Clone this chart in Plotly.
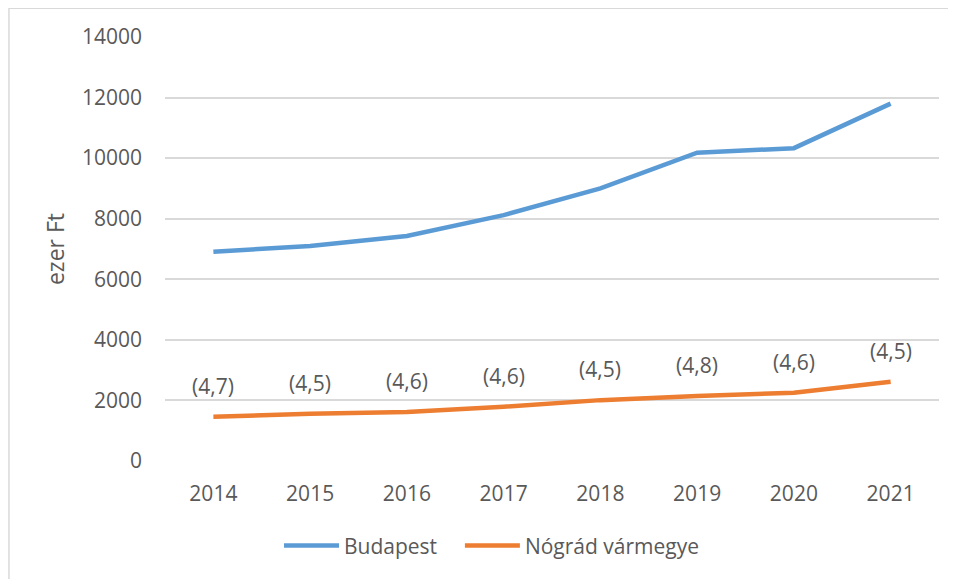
import plotly.graph_objects as go

years = ["2014", "2015", "2016", "2017", "2018", "2019", "2020", "2021"]
budapest = [6910, 7100, 7430, 8120, 9000, 10180, 10330, 11800]
nograd = [1460, 1560, 1620, 1790, 2010, 2150, 2250, 2620]
nograd_labels = ["(4,7)", "(4,5)", "(4,6)", "(4,6)", "(4,5)", "(4,8)", "(4,6)", "(4,5)"]
y_ticks = [0, 2000, 4000, 6000, 8000, 10000, 12000, 14000]

BLUE = "#5B9BD5"
ORANGE = "#ED7D31"
TXT = "#595959"
GRID = "#D9D9D9"
FONT = "Open Sans, sans-serif"

fig = go.Figure()
fig.add_trace(go.Scatter(x=years, y=budapest, mode="lines", name="Budapest",
                         line=dict(color=BLUE, width=4.5), legend="legend"))
fig.add_trace(go.Scatter(x=years, y=nograd, mode="lines", name="Nógrád vármegye",
                         line=dict(color=ORANGE, width=4.5), legend="legend2"))

# category axis: annotations take the category's serial number
for i, (yv, t) in enumerate(zip(nograd, nograd_labels)):
    fig.add_annotation(x=i, y=yv, xref="x", yref="y", text=t, showarrow=False,
                       yshift=31, font=dict(family=FONT, size=21, color=TXT))

# chart-area border at the figure edge
fig.add_shape(type="rect", xref="paper", yref="paper",
              x0=-0.2016, x1=1.05, y0=-0.35, y1=1.068,
              line=dict(color=GRID, width=1.5), fillcolor="rgba(0,0,0,0)", layer="below")

leg_common = dict(orientation="h", xanchor="left", y=-0.2, yanchor="middle",
                  font=dict(family=FONT, size=21, color=TXT), itemwidth=55,
                  bgcolor="rgba(0,0,0,0)")

fig.update_layout(
    width=948, height=571,
    margin=dict(l=157, r=17, t=29, b=118),
    plot_bgcolor="white", paper_bgcolor="white",
    font=dict(family=FONT, size=21, color=TXT),
    showlegend=True,
    legend=dict(x=0.1473, **leg_common),
    legend2=dict(x=0.381, **leg_common),
    xaxis=dict(type="category", range=[-0.5, 7.5], showgrid=False, zeroline=False,
               showline=False, ticks="", ticklabelstandoff=18,
               tickfont=dict(family=FONT, size=21, color=TXT)),
    yaxis=dict(range=[0, 14000], tickvals=y_ticks, ticktext=[str(v) for v in y_ticks],
               showgrid=True, gridcolor=GRID,
               gridwidth=1.5, zeroline=False, showline=False, ticks="",
               ticklabelstandoff=22,
               tickfont=dict(family=FONT, size=21, color=TXT),
               title=dict(text="ezer Ft", standoff=10,
                          font=dict(family=FONT, size=23, color=TXT))),
)

fig.write_html("out.html")
